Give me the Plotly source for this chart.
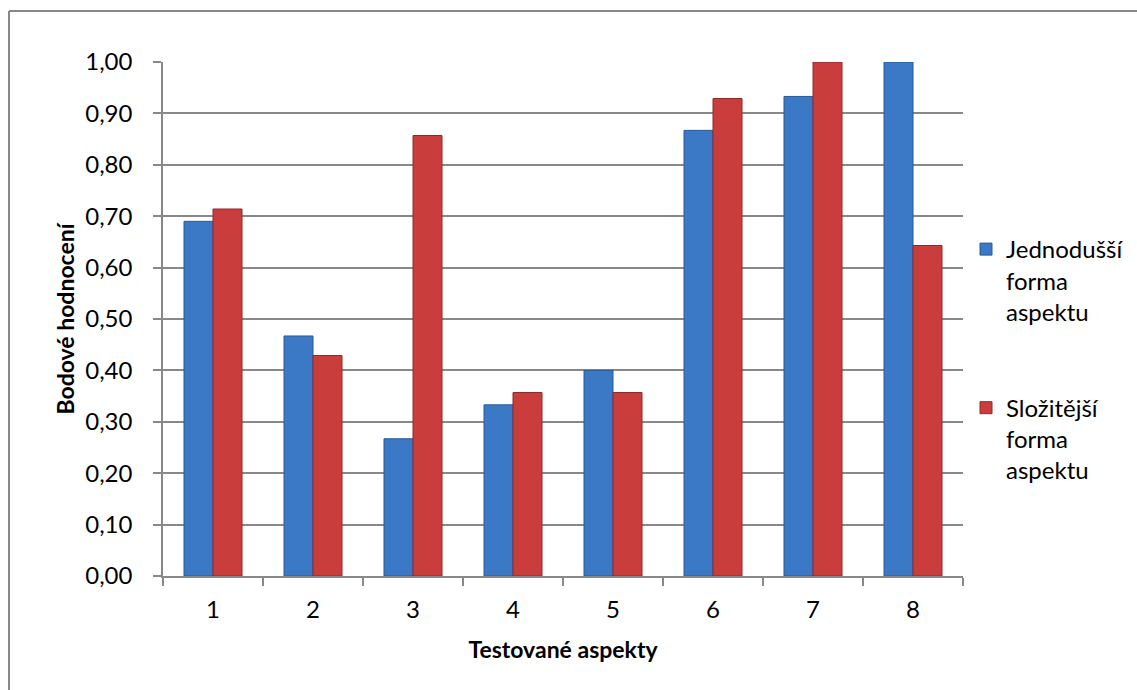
import plotly.graph_objects as go

categories = ["1", "2", "3", "4", "5", "6", "7", "8"]
jednodussi = [0.69, 0.467, 0.267, 0.333, 0.40, 0.867, 0.933, 1.00]
slozitejsi = [0.714, 0.429, 0.857, 0.357, 0.357, 0.929, 1.00, 0.643]
series_names = ["Jednodušší<br>forma<br>aspektu", "Složitější<br>forma<br>aspektu"]
y_ticks = [0.0, 0.1, 0.2, 0.3, 0.4, 0.5, 0.6, 0.7, 0.8, 0.9, 1.0]

FONT = "Lato, 'Open Sans', sans-serif"
W, H = 1137, 690
L, R, T, B = 163, 963, 62, 576

fig = go.Figure()
fig.add_trace(go.Bar(
    x=categories, y=jednodussi, name=series_names[0], legendgroup="a",
    marker=dict(color="#3B78C6", line=dict(color="#2A5A96", width=1)),
))
fig.add_trace(go.Bar(
    x=categories, y=slozitejsi, name=series_names[1], legendgroup="b",
    marker=dict(color="#C93D3D", line=dict(color="#8E2A2A", width=1)),
))

def px(x):
    return (x - L) / (R - L)

def py(y):
    return (B - y) / (B - T)

fig.update_layout(
    width=W, height=H,
    margin=dict(l=L, r=W - R, t=T, b=H - B, autoexpand=False),
    paper_bgcolor="white", plot_bgcolor="white",
    barmode="group", bargap=0.42, bargroupgap=0,
    separators=",.",
    font=dict(family=FONT, size=24, color="#000000"),
    xaxis=dict(
        type="category", showline=True, linecolor="#888888", linewidth=1.5,
        ticks="outside", tickson="boundaries", ticklen=8, tickcolor="#888888",
        tickwidth=1.5, showgrid=False, tickfont=dict(size=24),
        ticklabelstandoff=11,
        title=dict(text="<b>Testované aspekty</b>", font=dict(size=23), standoff=20),
    ),
    yaxis=dict(
        range=[0, 1.0], tickvals=y_ticks, tickformat=".2f",
        showline=True, linecolor="#888888", linewidth=1.5,
        ticks="outside", ticklen=8, tickcolor="#888888", tickwidth=1.5,
        showgrid=True, gridcolor="#888888", gridwidth=1.5,
        zeroline=False, tickfont=dict(size=24), ticklabelstandoff=16,
        title=dict(text="<b>Bodové hodnocení</b>", font=dict(size=23), standoff=4),
    ),
    legend=dict(
        x=px(966), y=py(227), xanchor="left", yanchor="top",
        traceorder="grouped", tracegroupgap=62, valign="top",
        font=dict(size=24), itemwidth=30, bgcolor="rgba(0,0,0,0)",
    ),
    showlegend=True,
)

fig.add_shape(type="line", xref="paper", yref="paper",
              x0=px(9), y0=py(11), x1=px(1140), y1=py(11),
              line=dict(color="#888888", width=2))
fig.add_shape(type="line", xref="paper", yref="paper",
              x0=px(9), y0=py(11), x1=px(9), y1=py(700),
              line=dict(color="#888888", width=2))

fig.write_html("out.html")
